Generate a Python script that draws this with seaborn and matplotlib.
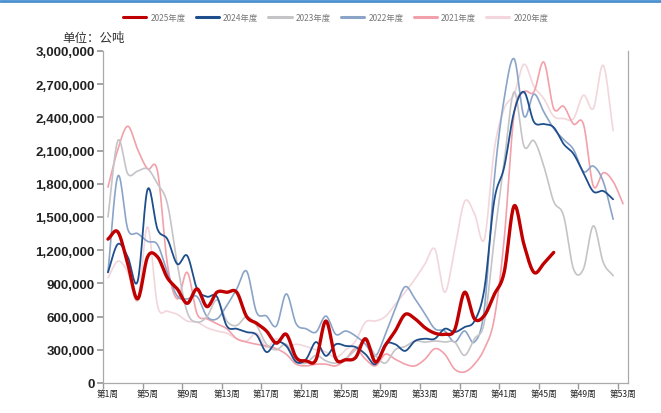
import numpy as np
import pandas as pd
import matplotlib
matplotlib.use("Agg")
import matplotlib.pyplot as plt
import seaborn as sns
from matplotlib.lines import Line2D
from matplotlib.ticker import FixedLocator, FuncFormatter

# weekly volumes, tonnes
weeks = list(range(1, 54))
week_labels = [f"第{w}周" for w in weeks]
years = ["2025年度", "2024年度", "2023年度", "2022年度", "2021年度", "2020年度"]

y2025 = [1300, 1365, 1075, 760, 1140, 1140, 950, 850, 720, 850, 690, 820, 820, 820, 600, 540,
         470, 360, 440, 230, 200, 210, 560, 220, 210, 230, 400, 190, 340, 470, 620, 580, 500,
         450, 440, 480, 820, 580, 610, 800, 1000, 1600, 1250, 1000, 1080, 1180]
y2024 = [1000, 1255, 1140, 920, 1750, 1390, 1300, 1075, 1150, 850, 780, 780, 515, 490, 460, 435,
         280, 370, 335, 190, 215, 370, 245, 350, 335, 325, 260, 170, 350, 350, 290, 380, 400,
         400, 490, 460, 505, 560, 850, 1650, 1950, 2450, 2630, 2360, 2340, 2310, 2160, 2070,
         1900, 1730, 1735, 1660]
y2023 = [1500, 2190, 1890, 1915, 1935, 1800, 1620, 1075, 640, 550, 600, 750, 560, 520, 600, 520,
         350, 300, 350, 200, 180, 250, 200, 180, 220, 300, 380, 250, 180, 300, 330, 380, 370,
         380, 370, 370, 250, 400, 550, 1300, 2000, 2630, 2140, 2190, 1960, 1640, 1510, 1030,
         1030, 1420, 1090, 970]
y2022 = [1000, 1870, 1390, 1350, 1280, 1250, 1000, 785, 760, 780, 600, 580, 700, 850, 1010, 640,
         605, 515, 805, 535, 490, 460, 605, 440, 470, 425, 350, 245, 440, 670, 870, 760, 625,
         490, 470, 370, 470, 370, 670, 1840, 2570, 2930, 2410, 2610, 2450, 2300, 2200, 2110,
         1910, 1960, 1820, 1480]
y2021 = [1770, 2110, 2320, 2110, 1935, 1915, 1075, 760, 1000, 625, 580, 535, 490, 400, 370, 350,
         335, 310, 260, 170, 155, 170, 170, 155, 215, 310, 215, 155, 260, 215, 170, 155, 215,
         310, 260, 125, 100, 170, 310, 580, 1300, 2430, 2630, 2630, 2900, 2480, 2500, 2340,
         2340, 1780, 1900, 1820, 1620]
y2020 = [950, 1100, 1000, 750, 1410, 700, 650, 620, 560, 550, 500, 470, 450, 400, 380, 450,
         320, 400, 330, 350, 330, 300, 280, 230, 300, 380, 550, 560, 600, 710, 820, 940, 1075,
         1210, 820, 1210, 1640, 1530, 1300, 2110, 2480, 2610, 2880, 2680, 2570, 2410, 2390,
         2390, 2600, 2480, 2870, 2280]

series = [y2025, y2024, y2023, y2022, y2021, y2020]
colors = ["#c00000", "#1f4e8c", "#c4c4c8", "#8aa4c8", "#f2a0aa", "#f2d6db"]
widths = [2.4, 1.3, 1.2, 1.2, 1.2, 1.2]


def smooth(x, y, n=16):
    # cubic hermite with catmull-rom tangents -> echarts-like rounded lines
    x = np.asarray(x, float)
    y = np.asarray(y, float)
    m = np.gradient(y, x)
    t = np.linspace(0, 1, n, endpoint=False)
    h00 = 2 * t**3 - 3 * t**2 + 1
    h10 = t**3 - 2 * t**2 + t
    h01 = -2 * t**3 + 3 * t**2
    h11 = t**3 - t**2
    xs, ys = [], []
    for i in range(len(x) - 1):
        h = x[i + 1] - x[i]
        xs.append(x[i] + t * h)
        ys.append(h00 * y[i] + h10 * h * m[i] + h01 * y[i + 1] + h11 * h * m[i + 1])
    xs.append([x[-1]])
    ys.append([y[-1]])
    return np.concatenate(xs), np.concatenate(ys)


sns.set_theme(style="white")
plt.rcParams["font.family"] = ["Noto Sans CJK SC", "DejaVu Sans"]

fig = plt.figure(figsize=(6.61, 4.14), dpi=100)
ax = fig.add_axes([103 / 661, 30 / 414, 525 / 661, 332 / 414])

# draw oldest first so 2025 ends up on top
for name, vals, col, lw in reversed(list(zip(years, series, colors, widths))):
    vals = np.array(vals) * 1000
    xs, ys = smooth(weeks[:len(vals)], vals)
    df = pd.DataFrame({"week": xs, "value": ys})
    sns.lineplot(data=df, x="week", y="value", ax=ax, color=col, lw=lw, sort=False)

ax.set_xlim(0.5, 53.5)
ax.set_ylim(0, 3000000)
ax.set_xlabel("")
ax.set_ylabel("")

ax.xaxis.set_major_locator(FixedLocator(weeks[::4]))
ax.set_xticklabels(week_labels[::4], fontsize=6.2, color="#222222")
ax.xaxis.set_minor_locator(FixedLocator(np.arange(0.5, 53, 4)))
ax.tick_params(axis="x", which="major", length=0, pad=4)
ax.tick_params(axis="x", which="minor", length=4, color="#999999", bottom=True)

ax.yaxis.set_major_locator(FixedLocator(np.arange(0, 3000001, 300000)))
ax.yaxis.set_major_formatter(FuncFormatter(lambda v, p: f"{int(v):,}"))
ax.tick_params(axis="y", length=4, color="#999999", left=True, pad=2)
for lab in ax.get_yticklabels():
    lab.set_fontfamily("Liberation Sans")
    lab.set_fontweight("bold")
    lab.set_fontsize(9.6)
    lab.set_color("#222222")

for s in ["left", "bottom", "right"]:
    ax.spines[s].set_color("#aaaaaa")
    ax.spines[s].set_linewidth(0.9)
ax.spines["top"].set_visible(False)

fig.text(62 / 661, 1 - 38 / 414, "单位：公吨", fontsize=9, color="#333333", va="center")

handles = [Line2D([], [], color=c, lw=2.2) for c in colors]
fig.legend(handles, years, loc="upper center", bbox_to_anchor=(0.508, 0.985), ncol=6,
           frameon=False, fontsize=6, handlelength=2.8, handletextpad=0.5,
           columnspacing=1.2, labelcolor="#777777")

# blue band across the top of the panel
fig.add_artist(Line2D([0, 1], [0.996, 0.996], transform=fig.transFigure, color="#4a90d0", lw=2))

fig.savefig("out.png", dpi=100)
